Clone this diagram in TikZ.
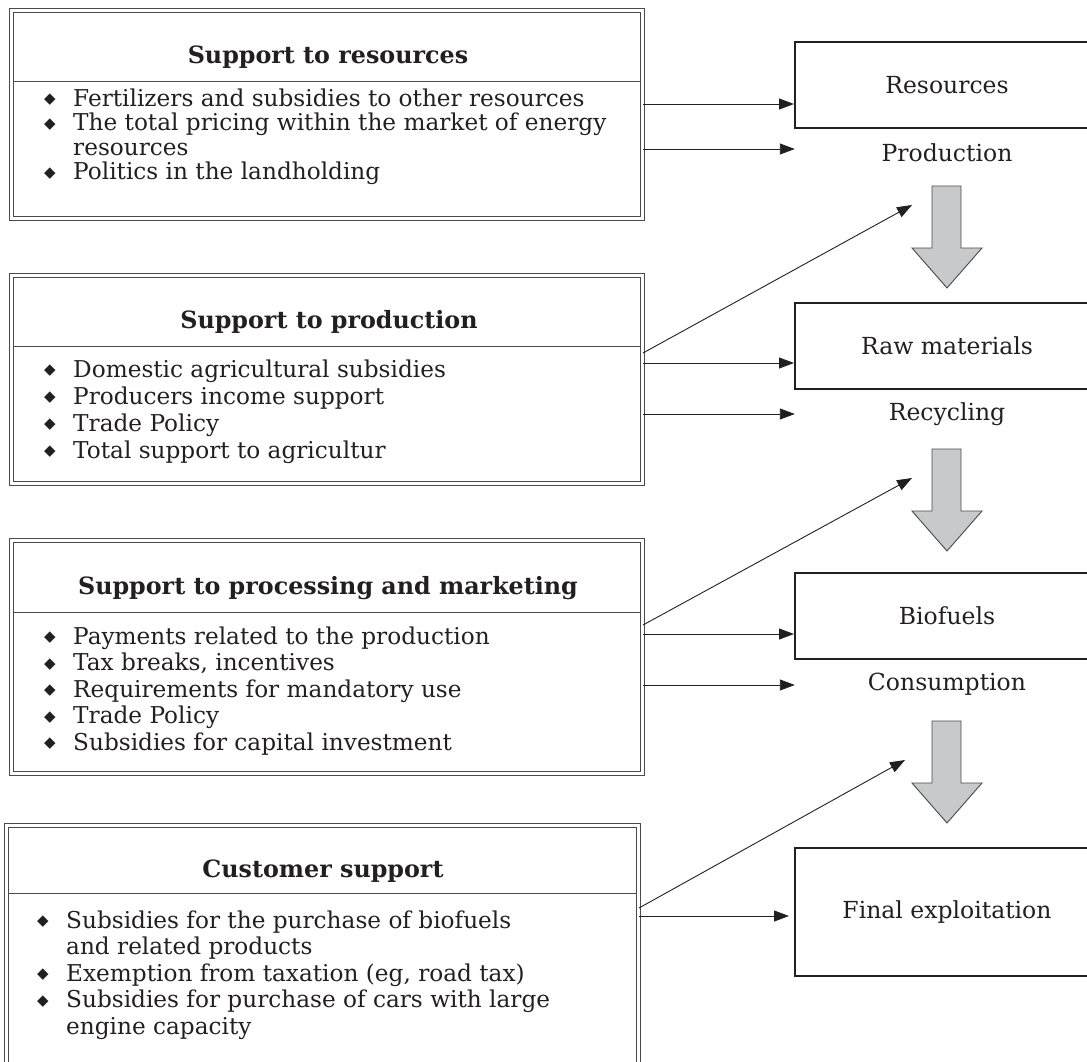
\documentclass[tikz,border=0pt]{standalone}
\usepackage{fontspec}
\setmainfont{DejaVu Serif}
\newfontfamily\symfont{DejaVu Sans}
\usetikzlibrary{arrows.meta}
\definecolor{txt}{HTML}{231F20}
\definecolor{frame}{HTML}{4A4A4A}
\definecolor{arrfill}{HTML}{C8C9CB}
\newcommand\bitem[4]{%
  \node[dia] (#1d) at (#2-23,#3) {\raisebox{2.2pt}{\symfont ◆}};
  \node[itm] (#1) at (#2,#3) {#4};}
\newcommand\citem[4]{\node[itm] (#1) at (#2,#3) {#4};}
\begin{document}
\begin{tikzpicture}[x=1pt,y=-1pt,
  lbox/.style={draw=frame, double=white, double distance=2.2pt, line width=1pt, inner sep=0pt},
  divline/.style={draw=frame, line width=1pt, shorten <=2.1pt, shorten >=2.1pt},
  ttl/.style={anchor=base, inner sep=0pt, text=txt, font=\fontsize{23.8}{28}\selectfont\bfseries},
  itm/.style={anchor=base west, inner sep=0pt, text=txt, font=\fontsize{23.2}{27}\selectfont},
  dia/.style={anchor=base, inner sep=0pt, text=txt, font=\fontsize{15}{17}\selectfont},
  rbox/.style={draw=txt, line width=2pt, minimum width=304pt, inner sep=0pt, text=txt, font=\fontsize{23.5}{28}\selectfont},
  rlab/.style={minimum width=304pt, inner sep=0pt, text=txt, font=\fontsize{23.5}{28}\selectfont},
  conn/.style={draw=txt, line width=0.9pt, -{Triangle[length=15pt,width=11pt]}},
  garrow/.style={draw=frame, line width=0.9pt, fill=arrfill, line join=miter}
]
\useasboundingbox (0,0) rectangle (1087,1061);
\clip (0,0) rectangle (1087,1061);

% ---------- left boxes ----------
\node[lbox, minimum width=631pt, minimum height=208pt] (b1) at (327,114.5) {};
\node[lbox, minimum width=631pt, minimum height=208pt] (b2) at (327,379.5) {};
\node[lbox, minimum width=631pt, minimum height=233pt] (b3) at (327,657) {};
\node[lbox, minimum width=632pt, minimum height=260pt] (b4) at (322.5,955.5) {};

\draw[divline] (b1.west |- 0,81) -- (b1.east |- 0,81);
\draw[divline] (b2.west |- 0,346) -- (b2.east |- 0,346);
\draw[divline] (b3.west |- 0,612) -- (b3.east |- 0,612);
\draw[divline] (b4.west |- 0,893) -- (b4.east |- 0,893);

\node[ttl] (t1) at (328,63) {Support to resources};
\node[ttl] (t2) at (329,328) {Support to production};
\node[ttl] (t3) at (328,594) {Support to processing and marketing};
\node[ttl] (t4) at (323,877) {Customer support};

\bitem{a1}{73}{106}{Fertilizers and subsidies to other resources}
\bitem{a2}{73}{130.5}{The total pricing within the market of energy}
\citem{a3}{73}{155}{resources}
\bitem{a4}{73}{179.5}{Politics in the landholding}

\bitem{p1}{73}{377}{Domestic agricultural subsidies}
\bitem{p2}{73}{404}{Producers income support}
\bitem{p3}{73}{431}{Trade Policy}
\bitem{p4}{73}{458}{Total support to agricultur}

\bitem{m1}{73}{644}{Payments related to the production}
\bitem{m2}{73}{670.5}{Tax breaks, incentives}
\bitem{m3}{73}{697}{Requirements for mandatory use}
\bitem{m4}{73}{723.5}{Trade Policy}
\bitem{m5}{73}{750}{Subsidies for capital investment}

\bitem{c1}{66}{928}{Subsidies for the purchase of biofuels}
\citem{c2}{66}{954.5}{and related products}
\bitem{c3}{66}{981}{Exemption from taxation (eg, road tax)}
\bitem{c4}{66}{1007.5}{Subsidies for purchase of cars with large}
\citem{c5}{66}{1034}{engine capacity}

% ---------- right column ----------
\node[rbox, minimum height=86pt] (res) at (947,85) {Resources};
\node[rlab] (prod) at (947,153) {Production};
\node[rbox, minimum height=86pt] (raw) at (947,345.5) {Raw materials};
\node[rlab] (rec) at (947,414) {Recycling};
\node[rbox, minimum height=86pt] (bio) at (947,616) {Biofuels};
\node[rlab] (cons) at (947,684) {Consumption};
\node[rbox, minimum height=128pt] (fin) at (947,912) {Final exploitation};

% gray flow arrows
\draw[garrow] (932,186) -- (961,186) -- (961,248) -- (982,248) -- (947,288) -- (912,248) -- (932,248) -- cycle;
\draw[garrow] (932,449) -- (961,449) -- (961,511) -- (982,511) -- (947,551) -- (912,511) -- (932,511) -- cycle;
\draw[garrow] (932,721) -- (961,721) -- (961,783) -- (982,783) -- (947,823) -- (912,783) -- (932,783) -- cycle;

\coordinate (d1) at (912,205);
\coordinate (d2) at (912,478);
\coordinate (d3) at (905,760);

% connectors
\draw[conn] (b1.east |- 0,104) -- (res.west |- 0,104);
\draw[conn] (b1.east |- 0,149) -- (prod.west |- 0,149);
\draw[conn] (b2.east |- 0,353) -- (d1);
\draw[conn] (b2.east |- 0,363) -- (raw.west |- 0,363);
\draw[conn] (b2.east |- 0,414) -- (rec.west |- 0,414);
\draw[conn] (b3.east |- 0,625) -- (d2);
\draw[conn] (b3.east |- 0,634) -- (bio.west |- 0,634);
\draw[conn] (b3.east |- 0,685) -- (cons.west |- 0,685);
\draw[conn] (b4.east |- 0,908) -- (d3);
\draw[conn, shorten >=5pt] (b4.east |- 0,916) -- (fin.west |- 0,916);
\end{tikzpicture}
\end{document}
